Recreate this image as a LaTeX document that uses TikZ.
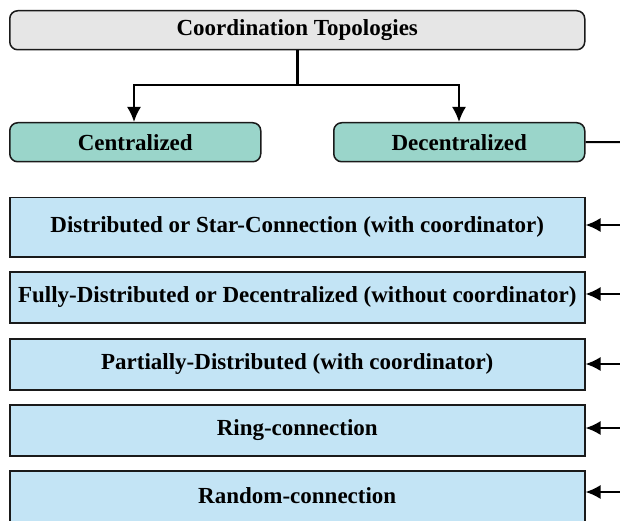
\documentclass[tikz,border=0pt]{standalone}
\usepackage{fontspec}
\setmainfont{Liberation Serif}
\usetikzlibrary{arrows.meta}
\definecolor{topgray}{HTML}{E6E6E6}
\definecolor{teal}{HTML}{9AD5CA}
\definecolor{lblue}{HTML}{C3E4F5}
\definecolor{edge}{HTML}{1A1A1A}
\begin{document}
\begin{tikzpicture}[x=1pt,y=-1pt,
  box/.style={draw=edge,line width=1.5pt,inner sep=0pt,anchor=north west,
    font=\fontsize{23}{27}\selectfont\bfseries},
  graybox/.style={box,fill=topgray,rounded corners=8pt},
  tealbox/.style={box,fill=teal,rounded corners=8pt},
  bluebox/.style={box,fill=lblue},
  conn/.style={line width=2pt,-{Latex[length=15pt,width=14pt]}},
  plain/.style={line width=2pt}]
\useasboundingbox (0,0) rectangle (620,521);
\clip (0,0) rectangle (620,521);
\node[graybox,minimum width=575pt,minimum height=39pt] (top) at (9,10) {Coordination Topologies};
\node[tealbox,minimum width=251pt,minimum height=39pt] (cen) at (9,122) {Centralized};
\node[tealbox,minimum width=251pt,minimum height=39pt] (dec) at (333,122) {Decentralized};
\node[bluebox,minimum width=575pt,minimum height=59pt] (b1) at (9,197) {Distributed or Star-Connection (with coordinator)};
\node[bluebox,minimum width=575pt,minimum height=51pt] (b2) at (9,271) {Fully-Distributed or Decentralized (without coordinator)};
\node[bluebox,minimum width=575pt,minimum height=51pt] (b3) at (9,338) {Partially-Distributed (with coordinator)};
\node[bluebox,minimum width=575pt,minimum height=51pt] (b4) at (9,404) {Ring-connection};
\node[bluebox,minimum width=575pt,minimum height=53pt] (b5) at (9,470) {\raisebox{3pt}{Random-connection}};
\draw[line width=3pt] (top.south) -- (top.south |- 0,85) coordinate (split);
\draw[conn] (split) -| (cen.north -| 134,0);
\draw[conn] (split) -| (dec.north -| 459,0);
\coordinate (d0) at (622,142);
\draw[plain] (dec.east) -- (d0);
\foreach \n/\y in {b1/225,b2/294,b3/364,b4/428,b5/492}{
  \coordinate (r\n) at (622,\y);
  \draw[conn] (r\n) -- (\n.east |- r\n);
}
\end{tikzpicture}
\end{document}
